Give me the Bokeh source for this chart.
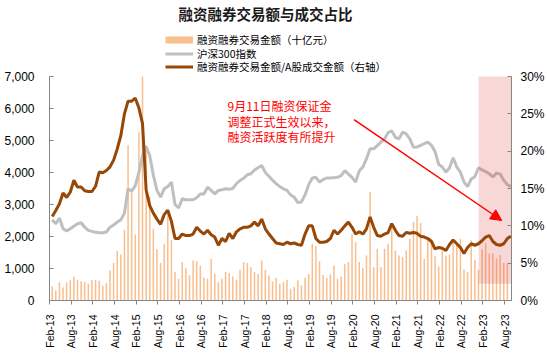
import math
from bokeh.plotting import figure
from bokeh.models import (Range1d, LinearAxis, FixedTicker, NumeralTickFormatter,
                          PrintfTickFormatter, Legend, LegendItem, Label, Arrow, NormalHead)
from bokeh.embed import file_html
from bokeh.resources import INLINE

# ---------------- data ----------------
tick_labels = ["Feb-13", "Aug-13", "Feb-14", "Aug-14", "Feb-15", "Aug-15", "Feb-16", "Aug-16",
               "Feb-17", "Aug-17", "Feb-18", "Aug-18", "Feb-19", "Aug-19", "Feb-20", "Aug-20",
               "Feb-21", "Aug-21", "Feb-22", "Aug-22", "Feb-23", "Aug-23"]

# monthly margin trading turnover (billion yuan), Feb-13 ... Aug-23
margin_turnover = [
    440, 310, 570, 410, 560, 630, 740, 650, 600, 580, 520, 640,
    640, 620, 460, 540, 940, 1170, 1550, 1440, 2210, 4850, 3440, 2060,
    5260, 7000, 4850, 3250, 2240, 1600, 1170, 1770, 2800, 1880, 890, 670,
    1200, 1010, 790, 1250, 1230, 1090, 710, 680, 1300, 830, 570, 680,
    900, 860, 750, 650, 960, 1200, 1170, 1040, 890, 830, 1250, 960,
    780, 600, 710, 520, 570, 650, 370, 420, 630, 470, 710, 830,
    1770, 1700, 1230, 800, 710, 810, 1090, 680, 750, 1130, 1200, 2080,
    1820, 1200, 1020, 1410, 3390, 1040, 1620, 1040, 1620, 1770, 2340, 1560,
    1410, 1350, 1560, 1930, 2450, 2650, 2420, 1300, 1930, 1880, 1380, 1060,
    1560, 1410, 1440, 1880, 1750, 1930, 970, 890, 1880, 1270, 960, 1600,
    1790, 1470, 1470, 1310, 1420, 1180, 1150]

# CSI 300 index level
csi300 = [
    2520, 2400, 2580, 2240, 2170, 2240, 2320, 2400, 2430, 2290, 2190, 2160,
    2130, 2120, 2120, 2140, 2290, 2360, 2450, 2520, 2730, 3490, 3420, 3590,
    4010, 4530, 4810, 4530, 3910, 3440, 3230, 3490, 3560, 3700, 3000, 2890,
    3180, 3150, 3150, 3150, 3210, 3330, 3330, 3540, 3440, 3330, 3440, 3460,
    3490, 3480, 3500, 3650, 3750, 3820, 3930, 3960, 4080, 4150, 4220, 4000,
    3880, 3760, 3650, 3560, 3490, 3440, 3300, 3230, 3060, 3080, 3300, 3620,
    3830, 3850, 3700, 3780, 3830, 3830, 3840, 3850, 3900, 4060, 3950, 3850,
    3700, 4050, 4170, 4430, 4740, 4740, 4840, 4950, 5050, 5250, 5300, 5100,
    5050, 5260, 5210, 5050, 4790, 4800, 4850, 4900, 4950, 4850, 4650, 4250,
    4170, 4010, 4150, 4460, 4170, 4010, 3700, 3560, 3800, 3870, 4150, 4080,
    4030, 3960, 3860, 3980, 3950, 3760, 3620, 3560]

# margin turnover / A-share turnover (%), right axis
margin_ratio_pct = [
    11.25, 12.05, 12.95, 14.4, 13.8, 14.5, 16.1, 15.2, 15.2, 14.7, 14.6, 14.6,
    15.3, 17.2, 17.1, 17.4, 17.9, 18.8, 20.3, 22.1, 25.0, 26.7, 26.7, 27.1,
    25.8, 23.7, 14.8, 12.7, 11.7, 10.9, 10.2, 11.5, 12.1, 10.6, 8.3, 8.3,
    8.9, 8.7, 8.7, 8.9, 9.8, 9.3, 8.9, 9.4, 8.8, 8.5, 7.4, 8.3,
    7.9, 9.0, 8.3, 9.2, 9.6, 9.8, 9.8, 10.0, 10.5, 10.0, 10.9, 9.6,
    8.9, 8.3, 7.7, 7.6, 7.5, 7.8, 7.6, 7.7, 7.5, 7.4, 8.9, 10.0,
    10.0, 8.3, 7.8, 7.8, 7.9, 8.3, 9.4, 8.9, 9.4, 10.0, 10.5, 9.8,
    8.9, 9.2, 8.9, 9.6, 11.2, 9.8, 8.7, 8.6, 8.9, 9.1, 10.3, 9.4,
    8.7, 8.6, 9.1, 9.0, 9.1, 9.0, 8.6, 8.5, 8.3, 7.9, 6.9, 7.1,
    7.0, 6.7, 7.5, 8.1, 7.6, 7.1, 6.3, 7.1, 7.6, 7.4, 7.6, 8.0,
    8.5, 8.7, 7.9, 7.5, 7.4, 7.6, 8.3, 8.6]

title_text = "融资融券交易额与成交占比"
legend_labels = ["融资融券交易金额（十亿元）", "沪深300指数", "融资融券交易金额/A股成交金额（右轴）"]
note_lines = ["9月11日融资保证金", "调整正式生效以来，", "融资活跃度有所提升"]

# ---------------- layout / styling ----------------
W, H = 547, 354
ML, MR, MB = 49, 35, 54
PLOT_TOP = 76                 # canvas y of the 7000 / 30% level
frame_h = H - MB              # frame runs to the top of the canvas
left_max, right_max = 7000, 30
span = frame_h / (frame_h - PLOT_TOP)   # extend ranges so the axes' top sits at PLOT_TOP

month_offset = 0.75  # observations sit late in each month
bar_x = [i + month_offset for i in range(len(margin_turnover))]
line_x = [i + month_offset for i in range(len(csi300))]
tick_pos = [6 * k for k in range(len(tick_labels))]

BAR = "#F9BF8F"
GREY = "#BFBFBF"
BROWN = "#974706"
NUM_FONT = "Liberation Sans"
CJK_FONT = "Noto Sans CJK SC"

p = figure(width=W, height=H, output_backend="svg", toolbar_location=None,
           title_location=None,
           x_range=Range1d(0, 127.9), y_range=Range1d(0, left_max * span),
           min_border_left=ML, min_border_right=MR, min_border_top=0, min_border_bottom=MB)
p.extra_y_ranges = {"pct": Range1d(0, right_max * span)}
p.outline_line_color = None
p.xgrid.visible = False
p.ygrid.visible = False
p.background_fill_color = "white"
p.border_fill_color = "white"

# bars
p.vbar(x=bar_x, top=margin_turnover, width=0.42, bottom=0, fill_color=BAR, line_color=None)
# CSI 300
r_grey = p.line(line_x, csi300, line_color=GREY, line_width=3)
# shaded period
p.quad(left=[118.8], right=[127.9], bottom=[520], top=[left_max],
       fill_color="#DC3737", fill_alpha=0.2, line_color=None)
# ratio line
r_brown = p.line(line_x, margin_ratio_pct, line_color=BROWN, line_width=3, y_range_name="pct")
# legend swatch for the bars (kept outside the visible x range)
r_leg_bar = p.line(x=[-20, -10], y=[0, 0], line_color=BAR, line_width=7)

# axes
xa = p.xaxis[0]
xa.ticker = FixedTicker(ticks=tick_pos)
xa.major_label_overrides = {t: l for t, l in zip(tick_pos, tick_labels)}
xa.major_label_orientation = math.pi / 2
xa.minor_tick_line_color = None
xa.major_tick_in = 0
xa.major_tick_out = 4
xa.major_label_standoff = 10
xa.axis_line_color = "#868686"
xa.major_tick_line_color = "#868686"
xa.major_label_text_font = NUM_FONT
xa.major_label_text_font_size = "10.5px"
xa.major_label_text_color = "#000000"

ya = p.yaxis[0]
ya.ticker = FixedTicker(ticks=[0, 1000, 2000, 3000, 4000, 5000, 6000, 7000])
ya.formatter = NumeralTickFormatter(format="0,0")
ya.bounds = (0, left_max)
ya.minor_tick_line_color = None
ya.major_tick_in = 4
ya.major_tick_out = 0
ya.major_label_standoff = 15
ya.axis_line_color = "#868686"
ya.major_tick_line_color = "#868686"
ya.major_label_text_font = NUM_FONT
ya.major_label_text_font_size = "12px"
ya.major_label_text_color = "#000000"

ra = LinearAxis(y_range_name="pct", ticker=FixedTicker(ticks=[0, 5, 10, 15, 20, 25, 30]),
                formatter=PrintfTickFormatter(format="%d%%"), bounds=(0, right_max))
ra.minor_tick_line_color = None
ra.major_tick_in = 4
ra.major_tick_out = 0
ra.major_label_standoff = 9
ra.axis_line_color = "#868686"
ra.major_tick_line_color = "#868686"
ra.major_label_text_font = NUM_FONT
ra.major_label_text_font_size = "12px"
ra.major_label_text_color = "#000000"
p.add_layout(ra, "right")

# legend: one single-item legend per row so the row pitch matches the reference
row_centers = [40.5, 54.0, 67.5]    # canvas y of each legend row
ROW_H = 13
for lab, rend, cy in zip(legend_labels, [r_leg_bar, r_grey, r_brown], row_centers):
    lg = Legend(items=[LegendItem(label=lab, renderers=[rend])],
                location=(116, frame_h - (cy + ROW_H / 2)), orientation="vertical",
                glyph_width=28, glyph_height=ROW_H, label_height=ROW_H, spacing=0,
                padding=0, margin=0, label_standoff=4,
                background_fill_alpha=0, border_line_alpha=0,
                label_text_font=CJK_FONT, label_text_font_size="10.5px",
                label_text_line_height=1.0,
                label_text_color="#000000")
    p.add_layout(lg)

# title
p.add_layout(Label(x=216, y=frame_h - 12.5, x_units="screen", y_units="screen",
                   text=title_text, text_align="center", text_baseline="middle",
                   text_font=CJK_FONT, text_font_size="14.5px", text_font_style="bold",
                   text_color="#1a1a1a"))

# note text
for k, line in enumerate(note_lines):
    p.add_layout(Label(x=178, y=frame_h - 105 - 15.5 * k, x_units="screen", y_units="screen",
                       text=line, text_align="left", text_baseline="middle",
                       text_font=CJK_FONT, text_font_size="12px", text_color="#FF0000"))

# arrow
p.add_layout(Arrow(x_start=84.3, y_start=5650, x_end=125.2, y_end=2500,
                   line_color="#FF0000", line_width=1.5,
                   end=NormalHead(size=11, fill_color="#FF0000", line_color="#FF0000")))

open("out.html", "w").write(file_html(p, INLINE))
